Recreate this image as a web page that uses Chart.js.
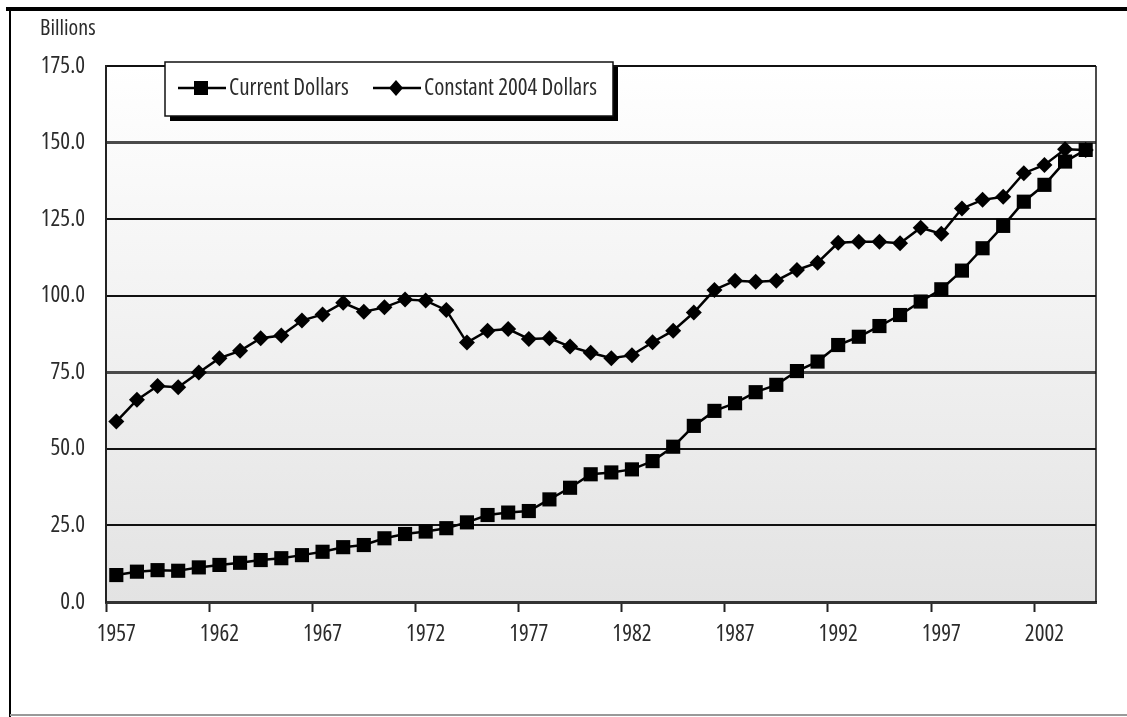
<!DOCTYPE html>
<html>
<head>
<meta charset="utf-8">
<script src="https://cdn.jsdelivr.net/npm/chart.js@4"></script>
<style>
  html, body { margin: 0; padding: 0; background: #fff; }
  canvas { display: block; }
</style>
</head>
<body>
<canvas id="c" width="1127" height="717"></canvas>
<script>
// --- data (billions) ---
const years = [
  '1957','1958','1959','1960','1961','1962','1963','1964','1965','1966',
  '1967','1968','1969','1970','1971','1972','1973','1974','1975','1976',
  '1977','1978','1979','1980','1981','1982','1983','1984','1985','1986',
  '1987','1988','1989','1990','1991','1992','1993','1994','1995','1996',
  '1997','1998','1999','2000','2001','2002','2003','2004'
];

const currentDollars = [
  8.8, 9.9, 10.4, 10.2, 11.3, 12.1, 12.8, 13.7, 14.3, 15.3,
  16.4, 17.9, 18.6, 20.8, 22.2, 23.0, 24.1, 26.0, 28.4, 29.2,
  29.7, 33.5, 37.3, 41.7, 42.3, 43.3, 46.0, 50.7, 57.5, 62.4,
  64.9, 68.5, 70.9, 75.4, 78.5, 83.9, 86.6, 90.1, 93.7, 98.1,
  102.1, 108.2, 115.5, 122.8, 130.7, 136.2, 143.8, 147.6
];

const constant2004Dollars = [
  58.9, 66.0, 70.5, 70.1, 74.9, 79.6, 82.0, 86.1, 87.0, 91.9,
  93.9, 97.7, 94.8, 96.2, 98.8, 98.4, 95.3, 84.7, 88.6, 89.1,
  85.9, 86.1, 83.4, 81.4, 79.6, 80.6, 84.8, 88.6, 94.5, 101.9,
  104.9, 104.6, 104.9, 108.4, 110.8, 117.3, 117.6, 117.6, 117.1, 122.2,
  120.2, 128.5, 131.3, 132.3, 140.0, 142.7, 147.8, 147.6
];

const yTicks = [0, 25, 50, 75, 100, 125, 150, 175];

// condensed Open Sans is the closest match to the narrow face in the original
const FAMILY = '"Open Sans", "DejaVu Sans Condensed", sans-serif';
const NARROW = 'normal condensed';
const TEXT = '#2b2b2b';

// gradient plot background + frame bits
const plotBackground = {
  id: 'plotBackground',
  beforeDraw(chart) {
    const { ctx, chartArea: a } = chart;
    const g = ctx.createLinearGradient(0, a.top, 0, a.bottom);
    g.addColorStop(0, '#ffffff');
    g.addColorStop(1, '#e3e3e3');
    ctx.save();
    ctx.fillStyle = g;
    ctx.fillRect(a.left, a.top, a.right - a.left, a.bottom - a.top);
    ctx.restore();
  },
  afterDraw(chart) {
    const { ctx, chartArea: a } = chart;
    ctx.save();
    // right edge of plot
    ctx.strokeStyle = '#111';
    ctx.lineWidth = 1.5;
    ctx.beginPath();
    ctx.moveTo(a.right, a.top);
    ctx.lineTo(a.right, a.bottom);
    ctx.stroke();

    // page frame
    ctx.fillStyle = '#000';
    ctx.fillRect(6, 7, 1121, 4);
    ctx.fillRect(9, 7, 2, 710);
    ctx.fillStyle = '#999';
    ctx.fillRect(10, 714, 1117, 2);

    // unit label
    ctx.fillStyle = TEXT;
    ctx.font = NARROW + ' 22px ' + FAMILY;
    ctx.textBaseline = 'middle';
    ctx.textAlign = 'left';
    ctx.fillText('Billions', 40, 29);
    ctx.restore();
  }
};

// boxed legend with drop shadow inside the plot
const boxLegend = {
  id: 'boxLegend',
  afterDraw(chart) {
    const { ctx } = chart;
    const x = 165, y = 62, w = 448, h = 54;
    ctx.save();
    ctx.fillStyle = '#000';
    ctx.fillRect(x + 5, y + 5, w, h);
    ctx.fillStyle = '#fff';
    ctx.fillRect(x, y, w, h);
    ctx.strokeStyle = '#111';
    ctx.lineWidth = 1.5;
    ctx.strokeRect(x, y, w, h);

    const cy = y + 26;
    const items = [
      { x0: 178, text: chart.data.datasets[0].label, shape: 'square' },
      { x0: 373, text: chart.data.datasets[1].label, shape: 'diamond' }
    ];
    ctx.font = NARROW + ' 23px ' + FAMILY;
    ctx.textBaseline = 'middle';
    items.forEach(it => {
      ctx.strokeStyle = '#000';
      ctx.lineWidth = 2.5;
      ctx.beginPath();
      ctx.moveTo(it.x0, cy);
      ctx.lineTo(it.x0 + 48, cy);
      ctx.stroke();
      const mx = it.x0 + 23;
      ctx.fillStyle = '#000';
      if (it.shape === 'square') {
        ctx.fillRect(mx - 7, cy - 7, 14, 14);
      } else {
        ctx.beginPath();
        ctx.moveTo(mx, cy - 8);
        ctx.lineTo(mx + 7, cy);
        ctx.lineTo(mx, cy + 8);
        ctx.lineTo(mx - 7, cy);
        ctx.closePath();
        ctx.fill();
      }
      ctx.fillStyle = TEXT;
      ctx.fillText(it.text, it.x0 + 51, cy);
    });
    ctx.restore();
  }
};

new Chart(document.getElementById('c').getContext('2d'), {
  type: 'line',
  data: {
    labels: years,
    datasets: [
      {
        label: 'Current Dollars',
        data: currentDollars,
        borderColor: '#000',
        backgroundColor: '#000',
        borderWidth: 2.5,
        pointStyle: 'rect',
        pointRadius: 10,
        pointBorderWidth: 0,
        tension: 0
      },
      {
        label: 'Constant 2004 Dollars',
        data: constant2004Dollars,
        borderColor: '#000',
        backgroundColor: '#000',
        borderWidth: 2.5,
        pointStyle: 'rectRot',
        pointRadius: 8,
        pointBorderWidth: 0,
        tension: 0
      }
    ]
  },
  options: {
    responsive: false,
    animation: false,
    devicePixelRatio: 1,
    layout: { padding: { left: 0, right: 31, top: 66, bottom: 0 } },
    plugins: {
      legend: { display: false },
      tooltip: { enabled: false }
    },
    scales: {
      x: {
        offset: true,
        afterFit(scale) { scale.height = 115; },
        grid: {
          offset: true,
          drawOnChartArea: false,
          drawTicks: true,
          tickLength: 10,
          tickWidth: 2,
          tickColor: ctx => (ctx.index % 5 === 0 ? '#222' : 'rgba(0,0,0,0)')
        },
        border: { display: true, color: '#333', width: 3 },
        ticks: {
          autoSkip: false,
          maxRotation: 0,
          padding: 9,
          color: TEXT,
          font: { family: FAMILY, size: 23, weight: NARROW },
          callback(val, i) { return i % 5 === 0 ? years[i] : ''; }
        }
      },
      y: {
        min: 0,
        max: 175,
        afterFit(scale) { scale.width = 106; },
        afterBuildTicks(scale) { scale.ticks = yTicks.map(v => ({ value: v })); },
        grid: {
          drawTicks: false,
          color: ctx => (ctx.tick && (ctx.tick.value === 150 || ctx.tick.value === 75) ? '#4a4a4a' : '#111'),
          lineWidth: ctx => (ctx.tick && (ctx.tick.value === 150 || ctx.tick.value === 75) ? 3 : 2)
        },
        border: { display: true, color: '#222', width: 2 },
        ticks: {
          padding: 21,
          color: TEXT,
          font: { family: FAMILY, size: 23, weight: NARROW },
          callback(v) { return Number(v).toFixed(1); }
        }
      }
    }
  },
  plugins: [plotBackground, boxLegend]
});
</script>
</body>
</html>
